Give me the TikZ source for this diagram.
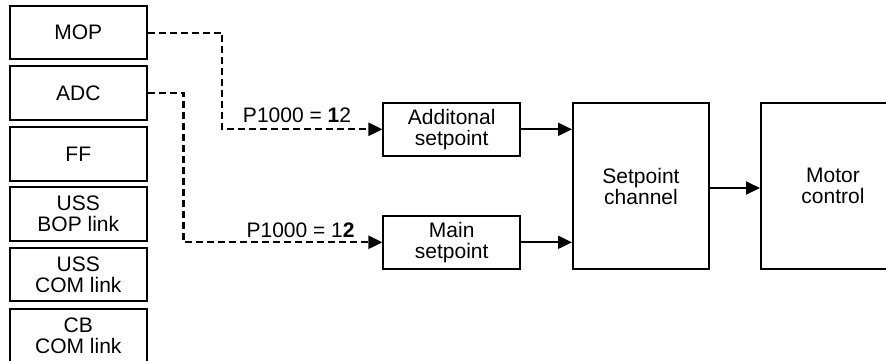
\documentclass[tikz,border=0pt]{standalone}
\usepackage{fontspec}
\setmainfont{Liberation Sans}
\usetikzlibrary{arrows.meta}
\begin{document}
\begin{tikzpicture}[x=1pt,y=-1pt,
  every node/.style={font=\fontsize{21}{21}\selectfont, align=center, inner sep=0pt},
  blk/.style={draw, line width=2pt, minimum width=136.5pt, minimum height=53.5pt},
  bigblk/.style={draw, line width=2pt, minimum width=136pt, minimum height=166pt},
  sig/.style={line width=2.2pt, dash pattern=on 7pt off 4pt, -{Triangle[length=14pt,width=13pt]}},
  flow/.style={line width=2pt, -{Triangle[length=14pt,width=13pt]}},
  lbl/.style={anchor=base}]
\useasboundingbox (0,0) rectangle (886,360);
\clip (0,0) rectangle (886,360);
\node[blk] (mop) at (78.3,32.7) {MOP};
\node[blk] (adc) at (78.3,93) {ADC};
\node[blk] (ff) at (78.3,154) {FF};
\node[blk] (ussbop) at (78.3,214) {USS\\BOP link};
\node[blk] (usscom) at (78.3,274.5) {USS\\COM link};
\node[blk] (cbcom) at (78.3,335.5) {CB\\COM link};
\node[blk] (add) at (451.7,129.3) {Additonal\\setpoint};
\node[blk] (main) at (451.7,242.3) {Main\\setpoint};
\node[bigblk] (spc) at (641,186) {Setpoint\\channel};
\node[bigblk, minimum width=144pt] (mc) at (833,186) {Motor\\control};
\coordinate (k1) at (222,80);
\coordinate (k2) at (183.5,160);
\draw[sig] (mop.east) -| (k1) |- (add.west);
\draw[sig] (adc.east) -| (k2) |- (main.west);
\draw[flow] (add.east) -- (add.east -| spc.west);
\draw[flow] (main.east) -- (main.east -| spc.west);
\draw[flow] (spc.east |- 0,188) -- (mc.west |- 0,188);
\node[lbl] (l1) at (297,122) {P1000 = \textbf{1}2};
\node[lbl] (l2) at (300.6,237) {P1000 = 1\textbf{2}};
\end{tikzpicture}
\end{document}
